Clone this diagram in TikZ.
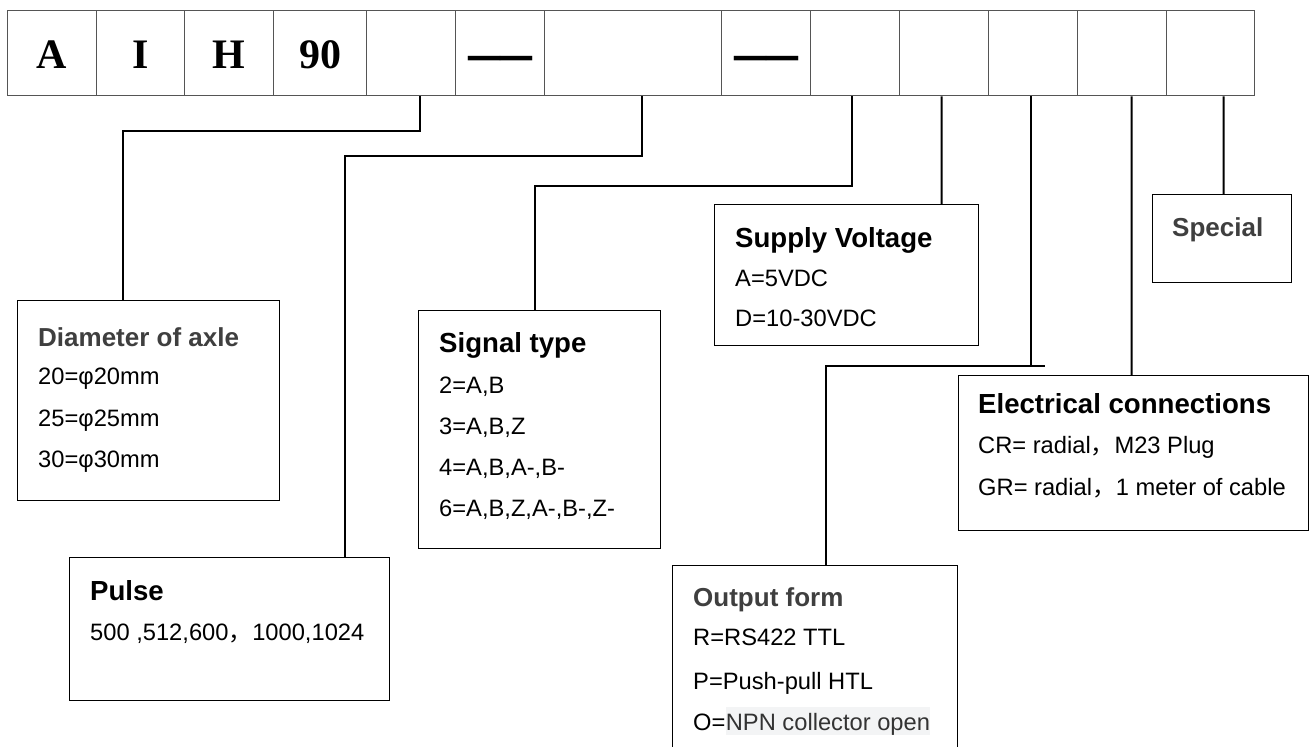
\documentclass[tikz,border=0pt]{standalone}
\usepackage{graphicx}
\usepackage{fontspec}
\setmainfont{Liberation Sans}
\newfontfamily\serifb{Liberation Serif}
\newfontfamily\cjk{Noto Sans CJK SC}
\definecolor{cellline}{HTML}{555555}
\definecolor{greytitle}{HTML}{3F3F3F}
\definecolor{hl}{HTML}{F3F4F5}
\definecolor{hltext}{HTML}{333333}
\begin{document}
\begin{tikzpicture}[x=1pt,y=-1pt,
  cell/.style={draw=cellline, line width=1.3pt, anchor=north west, minimum height=85pt,
    inner sep=0pt, text height=30pt, text depth=0pt,
    font=\serifb\bfseries\fontsize{42}{42}\selectfont},
  dashtext/.style={font=\serifb\bfseries\fontsize{32}{32}\selectfont},
  box/.style={draw=black, line width=1.4pt, anchor=north west, inner sep=0pt},
  item/.style={anchor=base west, inner sep=0pt, font=\fontsize{23.7}{28}\selectfont},
  title/.style={anchor=base west, inner sep=0pt, font=\bfseries\fontsize{27.6}{32}\selectfont},
  gtitle/.style={anchor=base west, inner sep=0pt, text=greytitle, font=\bfseries\fontsize{26}{30}\selectfont},
  conn/.style={draw=black, line width=2pt},
]
\clip (0,0) rectangle (1312,747);
\fill[white] (0,0) rectangle (1312,747);

% top row of code cells
\node[cell, minimum width=89pt] (cA) at (7,10) {A};
\node[cell, minimum width=88pt] (cI) at (96,10) {I};
\node[cell, minimum width=89pt] (cH) at (184,10) {H};
\node[cell, minimum width=93pt] (c90) at (273,10) {90};
\node[cell, minimum width=89pt] (e1) at (366,10) {};
\node[cell, minimum width=89pt, dashtext] (d1) at (455,10) {\raisebox{-5.5pt}{\scalebox{1}[2]{——}}};
\node[cell, minimum width=177pt] (w) at (544,10) {};
\node[cell, minimum width=89pt, dashtext] (d2) at (721,10) {\raisebox{-5.5pt}{\scalebox{1}[2]{——}}};
\node[cell, minimum width=89pt] (e2) at (810,10) {};
\node[cell, minimum width=89pt] (e3) at (899,10) {};
\node[cell, minimum width=89pt] (e4) at (988,10) {};
\node[cell, minimum width=89pt] (e5) at (1077,10) {};
\node[cell, minimum width=88pt] (e6) at (1166,10) {};

% boxes
\node[box, minimum width=262pt, minimum height=200pt] (diam) at (17,300) {};
\node[box, minimum width=320pt, minimum height=143pt] (pulse) at (69,557) {};
\node[box, minimum width=242pt, minimum height=238pt] (signal) at (418,310) {};
\node[box, minimum width=264pt, minimum height=141pt] (supply) at (714,204) {};
\node[box, minimum width=285pt, minimum height=200pt] (output) at (672,565) {};
\node[box, minimum width=350pt, minimum height=155pt] (elec) at (958,375) {};
\node[box, minimum width=139pt, minimum height=88pt] (special) at (1152,194) {};

% texts
\node[gtitle] (t1) at (38,346) {Diameter of axle};
\node[item] (t1a) at (38,384.5) {20=φ20mm};
\node[item] (t1b) at (38,426.5) {25=φ25mm};
\node[item] (t1c) at (38,467.5) {30=φ30mm};

\node[title] (t2) at (90,600) {Pulse};
\node[item] (t2a) at (90,640.5) {500 ,512,600{\cjk ，}1000,1024};

\node[title] (t3) at (439,352) {Signal type};
\node[item] (t3a) at (439,393.5) {2=A,B};
\node[item] (t3b) at (439,434.5) {3=A,B,Z};
\node[item] (t3c) at (439,475.5) {4=A,B,A-,B-};
\node[item] (t3d) at (439,516.5) {6=A,B,Z,A-,B-,Z-};

\node[title] (t4) at (735,247) {Supply Voltage};
\node[item] (t4a) at (735,286.5) {A=5VDC};
\node[item] (t4b) at (735,326.5) {D=10-30VDC};

\node[gtitle] (t5) at (693,606) {Output form};
\node[item] (t5a) at (693,645) {R=RS422 TTL};
\node[item] (t5b) at (693,689) {P=Push-pull HTL};
\node[item] (t5c) at (693,730) {O=};
\node[item, fill=hl, text=hltext, text height=23pt, text depth=5pt] (t5d) at (t5c.base east) {NPN collector open};

\node[title] (t6) at (978,413) {Electrical connections};
\node[item] (t6a) at (978,453.5) {CR= radial{\cjk ，}M23 Plug};
\node[item] (t6b) at (978,495.5) {GR= radial{\cjk ，}1 meter of cable};

\node[gtitle] (t7) at (1172,236) {Special};

% connectors
\draw[conn] ([xshift=8.5pt]e1.south) -- ++(0,35) -| ([xshift=-26pt]diam.north);
\draw[conn] ([xshift=8.5pt]w.south) -- ++(0,60) -| ([xshift=115pt]pulse.north);
\draw[conn] ([xshift=-3.5pt]e2.south) -- ++(0,90) -| ([xshift=-5pt]signal.north);
\draw[conn] ([xshift=-2.5pt]e3.south) -- ([xshift=95pt]supply.north);
\draw[conn] ([xshift=-2.5pt]e4.south) -- ++(0,270) coordinate (j5);
\draw[conn] ([xshift=14pt]j5) -| ([xshift=11pt]output.north);
\draw[conn] ([xshift=9.5pt]e5.south) -- ([xshift=-2pt]elec.north);
\draw[conn] ([xshift=13pt]e6.south) -- ([xshift=1.5pt]special.north);
\end{tikzpicture}
\end{document}
